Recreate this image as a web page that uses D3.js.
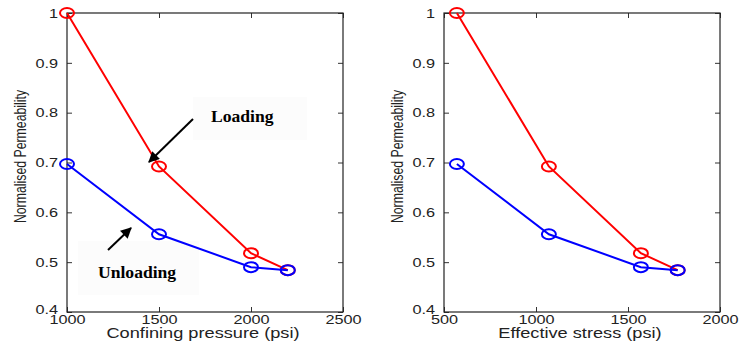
<!DOCTYPE html>
<html>
<head>
<meta charset="utf-8">
<script src="https://cdn.jsdelivr.net/npm/d3@7"></script>
<style>
  body { margin: 0; background: #fff; }
  svg { display: block; }
  .tick text { font-family: "Liberation Sans", Arial, sans-serif; font-size: 13px; fill: #222; }
  .tick line { stroke: #333; }
</style>
</head>
<body>
<svg id="chart" width="740" height="343"></svg>
<script>
// data
var confining = [1000, 1500, 2000, 2200];
var effective = [570, 1070, 1570, 1770];
var loading = [1.0, 0.692, 0.518, 0.484];
var unloading = [0.697, 0.556, 0.490, 0.484];

var yTicks = [0.4, 0.5, 0.6, 0.7, 0.8, 0.9, 1.0];
var xTicksLeft = [1000, 1500, 2000, 2500];
var xTicksRight = [500, 1000, 1500, 2000];

var svg = d3.select("#chart");

// the source image is stretched sideways, so are its texts
function stretch(sel, s) {
    sel.each(function() {
        var t = d3.select(this),
            x = +t.attr("x") || 0,
            y = +t.attr("y") || 0;
        t.attr("x", 0).attr("y", 0)
         .attr("transform", "translate(" + x + "," + y + ") scale(" + s + ",1)");
    });
}

var defs = svg.append("defs");
defs.append("marker")
    .attr("id", "head")
    .attr("viewBox", "0 0 10 10")
    .attr("refX", 9).attr("refY", 5)
    .attr("markerWidth", 6).attr("markerHeight", 5.5)
    .attr("markerUnits", "strokeWidth")
    .attr("orient", "auto")
  .append("path")
    .attr("d", "M0,0 L10,5 L0,10 z")
    .attr("fill", "#000");

function panel(left, xDomain, xTicks, xs, title) {
    var top = 13, bottom = 312, right = left + 276;
    var x = d3.scaleLinear().domain(xDomain).range([left, right]),
        y = d3.scaleLinear().domain([0.4, 1.0]).range([bottom, top]);

    var g = svg.append("g");

    var xAx = g.append("g")
        .attr("transform", "translate(0," + bottom + ")")
        .call(d3.axisBottom(x).tickValues(xTicks).tickSizeInner(-5).tickSizeOuter(0).tickPadding(3).tickFormat(d3.format("d")))
        .call(function(a) { a.select(".domain").remove(); });
    stretch(xAx.selectAll("text"), 1.25);

    g.append("g")
        .attr("transform", "translate(0," + top + ")")
        .call(d3.axisTop(x).tickValues(xTicks).tickSizeInner(-5).tickSizeOuter(0).tickFormat(""))
        .call(function(a) { a.select(".domain").remove(); });

    var yAx = g.append("g")
        .attr("transform", "translate(" + left + ",0)")
        .call(d3.axisLeft(y).tickValues(yTicks).tickSizeInner(-5).tickSizeOuter(0).tickPadding(9)
            .tickFormat(function(d) { return d === 1 ? "1" : d3.format(".1f")(d); }))
        .call(function(a) { a.select(".domain").remove(); });
    yAx.selectAll(".tick").filter(function(d) { return d === 0.4; })
        .select("text").attr("dy", "0.15em");
    stretch(yAx.selectAll("text"), 1.25);

    g.append("g")
        .attr("transform", "translate(" + right + ",0)")
        .call(d3.axisRight(y).tickValues(yTicks).tickSizeInner(-5).tickSizeOuter(0).tickFormat(""))
        .call(function(a) { a.select(".domain").remove(); });

    g.append("rect")
        .attr("x", left).attr("y", top)
        .attr("width", right - left).attr("height", bottom - top)
        .attr("fill", "none").attr("stroke", "#222").attr("stroke-width", 1.2);

    g.append("text")
        .attr("transform", "translate(" + ((left + right) / 2 - 2) + ",338) scale(1.3,1)")
        .attr("text-anchor", "middle")
        .style("font-family", "'Liberation Sans', Arial, sans-serif")
        .style("font-size", "14px").attr("fill", "#222")
        .text(title);

    g.append("text")
        .attr("transform", "translate(" + (left - 41) + "," + ((top + bottom) / 2 - 6) + ") scale(1.4,1) rotate(-90)")
        .attr("text-anchor", "middle")
        .style("font-family", "'Liberation Sans', Arial, sans-serif")
        .style("font-size", "12.3px").attr("fill", "#222")
        .text("Normalised Permeability");

    var line = d3.line()
        .x(function(d) { return x(d[0]); })
        .y(function(d) { return y(d[1]); });

    var series = [
        { vals: loading, color: "#ff0000" },
        { vals: unloading, color: "#0000ff" }
    ];
    series.forEach(function(s) {
        var pts = d3.zip(xs, s.vals);
        g.append("path")
            .datum(pts)
            .attr("d", line)
            .attr("fill", "none")
            .attr("stroke", s.color)
            .attr("stroke-width", 2);
        g.selectAll(null)
            .data(pts)
            .enter().append("ellipse")
            .attr("cx", function(d) { return x(d[0]); })
            .attr("cy", function(d) { return y(d[1]); })
            .attr("rx", 7).attr("ry", 5)
            .attr("fill", "none")
            .attr("stroke", s.color)
            .attr("stroke-width", 2);
    });
    return { x: x, y: y, g: g };
}

var p1 = panel(67, [1000, 2500], xTicksLeft, confining, "Confining pressure (psi)");
var p2 = panel(444, [500, 2000], xTicksRight, effective, "Effective stress (psi)");

// annotations on left panel, with their faint text boxes
var ann = p1.g;
ann.insert("rect", ":first-child")
    .attr("x", 193).attr("y", 97).attr("width", 114).attr("height", 43)
    .attr("fill", "#fcfcfc");
ann.insert("rect", ":first-child")
    .attr("x", 78).attr("y", 241).attr("width", 121).attr("height", 54)
    .attr("fill", "#fcfcfc");

ann.append("line")
    .attr("x1", 193).attr("y1", 119).attr("x2", 149).attr("y2", 162)
    .attr("stroke", "#000").attr("stroke-width", 2)
    .attr("marker-end", "url(#head)");
ann.append("text")
    .attr("transform", "translate(211,122) scale(1.1,1)")
    .style("font-family", "'Liberation Serif', 'Times New Roman', serif")
    .style("font-weight", "bold").style("font-size", "16px")
    .text("Loading");

ann.append("line")
    .attr("x1", 108).attr("y1", 250).attr("x2", 131).attr("y2", 228)
    .attr("stroke", "#000").attr("stroke-width", 2)
    .attr("marker-end", "url(#head)");
ann.append("text")
    .attr("transform", "translate(98,278) scale(1.1,1)")
    .style("font-family", "'Liberation Serif', 'Times New Roman', serif")
    .style("font-weight", "bold").style("font-size", "16px")
    .text("Unloading");
</script>
</body>
</html>
